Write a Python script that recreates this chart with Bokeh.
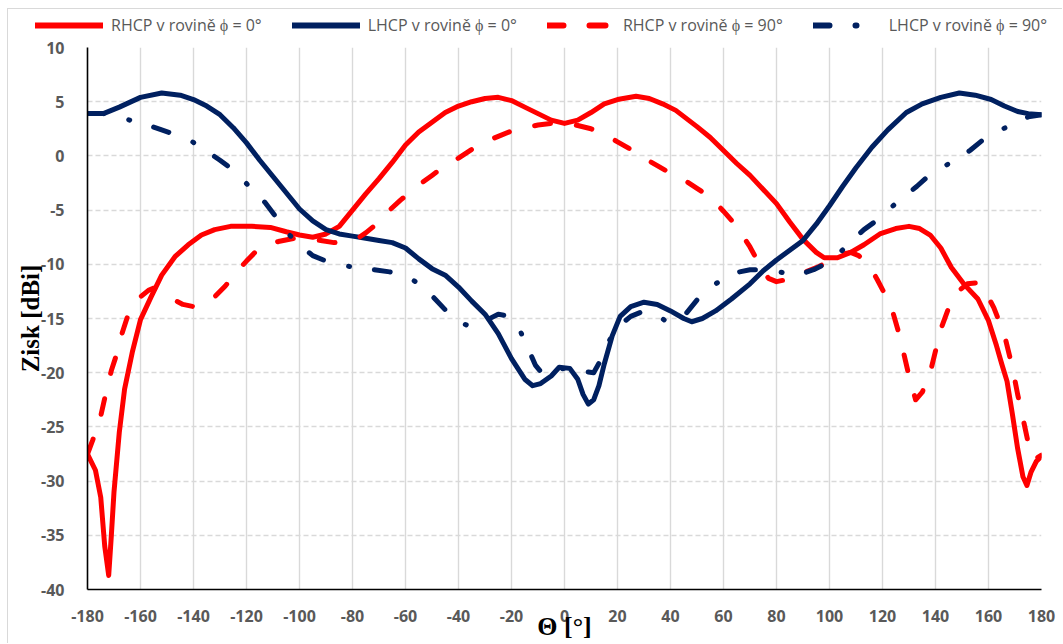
from bokeh.plotting import figure
from bokeh.layouts import column
from bokeh.models import Range1d, FixedTicker, Legend, LegendItem
from bokeh.embed import file_html
from bokeh.resources import INLINE

# ---------------- data ----------------
theta_rhcp0 = [-180, -177, -175, -173.5, -172, -171, -170, -168, -166, -163, -160, -156, -152, -147,
               -142, -137, -132, -126, -118, -111, -105, -100, -95, -90, -85, -80, -75, -70, -65,
               -60, -55, -50, -45, -40, -35, -30, -25, -20, -15, -10, -5, 0, 5, 10, 15, 20, 27, 32,
               37, 42, 50, 55, 60, 65, 70, 75, 80, 85, 90, 95, 98, 103, 108, 113, 119, 125, 130,
               134, 138, 142, 146, 151, 156, 160, 163, 165, 167, 169, 171, 173, 174.5, 176, 178, 180]
gain_rhcp0 = [-27.5, -29.0, -31.5, -36.0, -38.7, -35.0, -31.0, -25.5, -21.5, -18.0, -15.1, -13.0,
              -11.0, -9.3, -8.2, -7.3, -6.8, -6.5, -6.5, -6.6, -7.0, -7.3, -7.5, -7.2, -6.5, -5.0,
              -3.5, -2.1, -0.6, 1.0, 2.2, 3.1, 4.0, 4.6, 5.0, 5.3, 5.4, 5.1, 4.5, 3.9, 3.3, 3.0, 3.3,
              4.0, 4.8, 5.2, 5.5, 5.3, 4.8, 4.2, 2.7, 1.7, 0.5, -0.7, -1.8, -3.1, -4.4, -6.1, -7.7,
              -8.9, -9.4, -9.4, -8.9, -8.2, -7.2, -6.7, -6.5, -6.7, -7.3, -8.5, -10.3, -11.9, -13.2,
              -15.2, -17.5, -19.2, -20.8, -23.8, -27.0, -29.6, -30.4, -29.2, -28.2, -27.7]

theta_lhcp0 = [-180, -174, -168, -160, -152, -145, -140, -135, -130, -125, -120, -115, -110, -105,
               -100, -95, -90, -85, -80, -75, -70, -65, -60, -55, -50, -45, -40, -35, -30, -25, -20,
               -15, -12, -9, -5, -2, 2, 5, 7, 9, 11, 13, 15, 18, 21, 25, 30, 35, 40, 45, 48, 52, 57,
               63, 70, 75, 80, 85, 90, 95, 100, 105, 110, 116, 122, 129, 135, 142, 149, 155, 161,
               166, 171, 175, 180]
gain_lhcp0 = [3.9, 3.9, 4.5, 5.4, 5.8, 5.6, 5.2, 4.6, 3.8, 2.6, 1.2, -0.4, -1.9, -3.4, -4.9, -6.0,
              -6.8, -7.2, -7.4, -7.6, -7.8, -8.0, -8.5, -9.5, -10.4, -11.0, -12.1, -13.4, -14.6,
              -16.4, -18.7, -20.6, -21.2, -21.0, -20.3, -19.5, -19.6, -20.6, -22.0, -22.9, -22.5,
              -21.2, -19.2, -16.6, -14.8, -13.9, -13.5, -13.7, -14.3, -15.0, -15.3, -15.0, -14.3,
              -13.2, -11.8, -10.6, -9.6, -8.7, -7.8, -6.3, -4.6, -2.8, -1.1, 0.8, 2.4, 4.0, 4.8, 5.4,
              5.8, 5.6, 5.2, 4.6, 4.1, 3.9, 3.8]

theta_rhcp90 = [-180, -178, -175, -173, -171, -169, -167, -165, -162, -160, -157, -155, -152, -148,
                -144, -140, -136, -132, -128, -124, -120, -116, -112, -108, -102, -97, -92, -87, -82,
                -78, -75, -72, -69, -66, -62, -58, -54, -50, -45, -40, -35, -30, -25, -20, -15, -10,
                -5, 0, 5, 10, 15, 20, 25, 30, 35, 40, 45, 50, 55, 60, 65, 70, 74, 77, 80, 84, 88, 92,
                96, 100, 104, 108, 111, 115, 118, 121, 124, 126, 128, 130, 132.5, 135, 138, 140, 142,
                145, 148, 152, 156, 159, 162, 166, 169, 171, 173, 175, 176.5, 178, 180]
gain_rhcp90 = [-27.5, -26.2, -24.0, -21.8, -19.8, -18.3, -16.4, -14.9, -13.8, -13.0, -12.4, -12.2,
               -12.6, -13.2, -13.7, -13.9, -13.6, -13.0, -12.0, -10.8, -9.7, -8.7, -8.2, -7.9,
               -7.6, -7.7, -7.8, -8.0, -7.9, -7.6, -7.1, -6.5, -5.8, -5.0, -4.1, -3.3, -2.5, -1.8,
               -0.9, -0.2, 0.6, 1.3, 1.8, 2.3, 2.6, 2.85, 3.0, 3.0, 2.8, 2.5, 2.0, 1.3, 0.6, -0.2,
               -0.9, -1.6, -2.2, -3.0, -3.8, -5.1, -6.5, -8.4, -10.2, -11.3, -11.6, -11.4, -11.1,
               -10.6, -10.2, -9.7, -9.1, -8.9, -9.2, -10.1, -11.4, -12.8, -14.5, -16.2, -18.2,
               -20.3, -22.5, -21.8, -20.0, -18.0, -16.0, -14.0, -12.6, -11.8, -11.7, -12.6, -14.0,
               -16.5, -19.5, -22.0, -24.2, -26.5, -27.9, -27.9, -27.6]

theta_lhcp90 = [-180, -174, -168, -164, -158, -152, -146, -141, -136, -130, -125, -121, -117, -113,
                -109, -105, -100, -95, -90, -84, -78, -72, -66, -60, -55, -50, -45, -41, -36, -33,
                -29, -25, -21, -17, -14, -11, -8, -4, 0, 4, 8, 11, 14, 17, 20, 25, 30, 34, 38, 42,
                46, 51, 57, 64, 70, 77, 83, 88, 94, 99, 104, 109, 113, 117, 121, 128, 133, 138, 143,
                148, 153, 158, 164, 169.5, 175, 180]
gain_lhcp90 = [3.9, 3.9, 3.6, 3.3, 2.9, 2.4, 1.9, 1.4, 0.6, -0.4, -1.3, -2.3, -3.3, -4.3, -5.6,
               -7.0, -8.2, -9.2, -9.7, -10.1, -10.3, -10.5, -10.7, -11.0, -11.8, -12.9, -14.2,
               -15.2, -15.7, -15.7, -15.1, -14.6, -14.8, -16.0, -17.6, -19.3, -20.2, -19.8, -19.6,
               -19.7, -19.9, -20.0, -18.7, -17.0, -15.8, -14.8, -14.3, -14.5, -15.2, -15.1, -14.5,
               -13.0, -11.8, -10.8, -10.5, -10.5, -10.8, -11.0, -10.5, -9.9, -8.9, -7.7, -6.8,
               -6.1, -5.2, -3.8, -2.8, -1.7, -1.0, -0.3, 0.5, 1.5, 2.3, 3.0, 3.6, 3.8]

series_labels = ["RHCP v rovině ϕ = 0°", "LHCP v rovině ϕ = 0°",
                 "RHCP v rovině ϕ = 90°", "LHCP v rovině ϕ = 90°"]
x_ticks = list(range(-180, 181, 20))
y_ticks = list(range(-40, 11, 5))

RED = "#FF0000"
NAVY = "#002060"
GRAY_TXT = "#595959"
GRID = "#D9D9D9"
LW = 5
LW_LEGEND = 6
styles_list = [dict(line_color=RED, line_dash="solid"),
               dict(line_color=NAVY, line_dash="solid"),
               dict(line_color=RED, line_dash="16 26"),
               dict(line_color=NAVY, line_dash="16 26 1 25")]
series = [(theta_rhcp0, gain_rhcp0), (theta_lhcp0, gain_lhcp0),
          (theta_rhcp90, gain_rhcp90), (theta_lhcp90, gain_lhcp90)]

# ---------------- main chart ----------------
p = figure(width=1054, height=606, x_range=Range1d(-180, 180), y_range=Range1d(-40, 10),
           output_backend="svg", toolbar_location=None,
           min_border_left=79, min_border_right=21, min_border_top=10, min_border_bottom=53)
p.outline_line_color = None
p.background_fill_color = "white"
p.border_fill_color = "white"

p.xgrid.ticker = FixedTicker(ticks=x_ticks)
p.ygrid.ticker = FixedTicker(ticks=y_ticks)
p.xgrid.grid_line_color = GRID
p.xgrid.grid_line_width = 1.4
p.ygrid.grid_line_color = GRID
p.ygrid.grid_line_width = 1.4
p.ygrid.grid_line_dash = "5 3"

for ax in (p.xaxis[0], p.yaxis[0]):
    ax.axis_line_color = "black"
    ax.axis_line_width = 1.6
    ax.major_tick_line_color = None
    ax.minor_tick_line_color = None
    ax.major_label_text_font = "Open Sans"
    ax.major_label_text_font_style = "bold"
    ax.major_label_text_font_size = "16px"
    ax.major_label_text_color = GRAY_TXT
    ax.axis_label_text_font = "Liberation Serif"
    ax.axis_label_text_font_style = "bold"
    ax.axis_label_text_color = "black"

p.xaxis.ticker = FixedTicker(ticks=x_ticks)
p.yaxis.ticker = FixedTicker(ticks=y_ticks)
p.xaxis.major_label_overrides = {t: str(t) for t in x_ticks}
p.yaxis.major_label_overrides = {t: str(t) for t in y_ticks}
p.xaxis.axis_label = "Θ [°]"
p.yaxis.axis_label = "Zisk [dBi]"
p.xaxis.axis_label_text_font_size = "26px"
p.yaxis.axis_label_text_font_size = "25px"
p.xaxis.major_label_standoff = 14
p.xaxis.axis_label_standoff = -13
p.yaxis.major_label_standoff = 17
p.yaxis.axis_label_standoff = -6

for (tx, gy), st in zip(series, styles_list):
    p.line(tx, gy, line_width=LW, line_join="round", line_cap="round", **st)

# ---------------- legend strip (own figure; its lines fall outside its range) ----------------
pl = figure(width=1054, height=28, x_range=Range1d(-180, 180), y_range=Range1d(100, 101),
            output_backend="svg", toolbar_location=None,
            x_axis_location=None, y_axis_location=None,
            min_border_left=0, min_border_right=0, min_border_top=0, min_border_bottom=0)
pl.frame_align = False
pl.grid.visible = False
pl.outline_line_color = None
pl.background_fill_color = "white"
pl.border_fill_color = "white"
items = []
for lab, (tx, gy), st in zip(series_labels, series, styles_list):
    r = pl.line(tx, gy, line_width=LW_LEGEND, line_join="round", line_cap="round", **st)
    items.append(LegendItem(label=lab, renderers=[r]))

legend = Legend(items=items, orientation="horizontal", location=(27, 1))
legend.background_fill_alpha = 0
legend.border_line_color = None
legend.padding = 0
legend.margin = 0
legend.spacing = 30
legend.label_standoff = 8
legend.glyph_width = 68
legend.glyph_height = 20
legend.label_height = 20
legend.label_text_font = "Open Sans"
legend.label_text_font_size = "16px"
legend.label_text_color = GRAY_TXT
pl.add_layout(legend)

lay = column(pl, p, spacing=0)
lay.styles = {"margin-left": "7px", "margin-top": "8px",
              "border-left": "1px solid #D9D9D9", "border-top": "1px solid #D9D9D9"}

open("out.html", "w").write(file_html(lay, INLINE))
